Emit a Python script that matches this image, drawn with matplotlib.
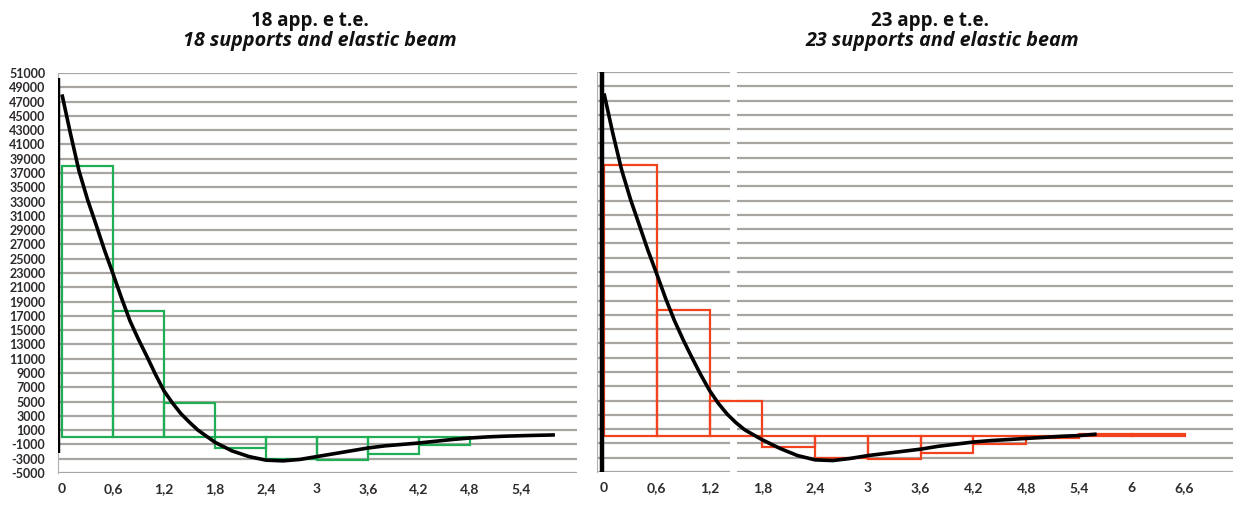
import matplotlib
matplotlib.use('Agg')
import matplotlib.pyplot as plt

W, H = 1258, 517

# support reaction steps (bars 0.6 wide)
bar_w = 0.6
left_bar_x = [0, 0.6, 1.2, 1.8, 2.4, 3.0, 3.6, 4.2]
left_bar_v = [38000, 17700, 4800, -1500, -3000, -3200, -2400, -1100]
right_bar_x = [0, 0.6, 1.2, 1.8, 2.4, 3.0, 3.6, 4.2, 4.8, 5.4, 6.0]
right_bar_v = [38000, 17700, 4900, -1500, -3000, -3200, -2400, -1100, -300, 250, 250]

# elastic beam curve
left_curve_x = [0, 0.1, 0.2, 0.3, 0.4, 0.5, 0.6, 0.7, 0.8, 0.9, 1.0, 1.1, 1.2, 1.3, 1.4,
                1.5, 1.6, 1.8, 2.0, 2.2, 2.4, 2.6, 2.8, 3.0, 3.2, 3.4, 3.6, 3.8, 4.0,
                4.2, 4.4, 4.6, 4.8, 5.0, 5.2, 5.4, 5.6, 5.8]
left_curve_v = [48000, 42500, 37300, 33300, 29800, 26200, 22900, 19500, 16300, 13700,
                11300, 8800, 6500, 4800, 3300, 2100, 1000, -700, -1900, -2700, -3200,
                -3300, -3100, -2700, -2300, -1900, -1500, -1200, -1000, -800, -550, -300,
                -100, 50, 150, 220, 280, 330]
right_curve_x = [0, 0.1, 0.2, 0.3, 0.4, 0.5, 0.6, 0.7, 0.8, 0.9, 1.0, 1.1, 1.2, 1.3, 1.4,
                 1.5, 1.6, 1.8, 2.0, 2.2, 2.4, 2.6, 2.8, 3.0, 3.2, 3.4, 3.6, 3.8, 4.0,
                 4.2, 4.4, 4.6, 4.8, 5.0, 5.2, 5.4, 5.6]
right_curve_v = [48000, 42400, 37300, 33200, 29600, 26000, 22700, 19300, 16200, 13500,
                 11000, 8600, 6400, 4600, 3100, 1900, 900, -500, -1700, -2700, -3300,
                 -3400, -3100, -2700, -2400, -2100, -1800, -1400, -1100, -800, -600, -450,
                 -300, -150, 0, 100, 300]

x_ticks = [0, 0.6, 1.2, 1.8, 2.4, 3.0, 3.6, 4.2, 4.8, 5.4, 6.0, 6.6]
x_labels = ['0', '0,6', '1,2', '1,8', '2,4', '3', '3,6', '4,2', '4,8', '5,4', '6', '6,6']
y_ticks = list(range(-5000, 51001, 2000))

titles_top = ['18 app. e t.e.', '23 app. e t.e.']
titles_sub = ['18 supports and elastic beam', '23 supports and elastic beam']

GRID = '#a8a4a2'
GREEN = '#1fae55'
RED = '#f2421e'
TXT = '#2e2a2a'
FONT = 'Lato'

fig = plt.figure(figsize=(W / 100, H / 100), dpi=100)


def make_ax(px_left, px_right, px_top, px_bottom, xlim):
    ax = fig.add_axes([px_left / W, 1 - px_bottom / H, (px_right - px_left) / W,
                       (px_bottom - px_top) / H])
    ax.set_xlim(*xlim)
    ax.set_ylim(-5000, 51000)
    for s in ['top', 'right', 'bottom']:
        ax.spines[s].set_visible(False)
    ax.spines['left'].set_color('#b0b0b0')
    ax.set_yticks(y_ticks)
    ax.yaxis.grid(True, color=GRID, lw=1.6)
    ax.set_axisbelow(True)
    ax.tick_params(axis='both', length=0)
    return ax


# left panel
ax1 = make_ax(58, 577, 73, 473, (-0.047, 6.06))
n1 = 10
ax1.set_xticks(x_ticks[:n1])
ax1.set_xticklabels(x_labels[:n1])
ax1.set_yticklabels([str(v) for v in y_ticks])
ax1.tick_params(axis='y', pad=9)
ax1.tick_params(axis='x', pad=7)
ax1.bar(left_bar_x, left_bar_v, width=bar_w, align='edge', fill=False,
        edgecolor=GREEN, lw=1.6, zorder=3)
ax1.plot(left_curve_x, left_curve_v, color='black', lw=2.6, zorder=4,
         solid_capstyle='butt', solid_joinstyle='round')
ax1.vlines(-0.05, -2200, 50300, color='black', lw=3.2, zorder=5)

# right panel
ax2 = make_ax(597, 1233, 72, 472, (-0.08, 7.15))
ax2.set_xticks(x_ticks)
ax2.set_xticklabels(x_labels)
ax2.set_yticklabels([])
ax2.tick_params(axis='x', pad=7)
ax2.axvline(1.47, color='white', lw=5, zorder=2)
ax2.bar(right_bar_x, right_bar_v, width=bar_w, align='edge', fill=False,
        edgecolor=RED, lw=1.6, zorder=3)
ax2.plot(right_curve_x, right_curve_v, color='black', lw=2.6, zorder=4,
         solid_capstyle='butt', solid_joinstyle='round')
ax2.vlines(-0.02, -5000, 51000, color='black', lw=3.2, zorder=5)

for ax in (ax1, ax2):
    for lab in ax.get_yticklabels():
        lab.set_fontfamily(FONT)
        lab.set_fontweight('bold')
        lab.set_fontsize(9)
        lab.set_color(TXT)
    for lab in ax.get_xticklabels():
        lab.set_fontfamily(FONT)
        lab.set_fontweight('bold')
        lab.set_fontsize(10)
        lab.set_color(TXT)

# titles
for cx1, cx2, top, sub in [(310, 320, titles_top[0], titles_sub[0]),
                           (930, 942, titles_top[1], titles_sub[1])]:
    fig.text(cx1 / W, 1 - 26 / H, top, ha='center', va='baseline', fontsize=13.5,
             fontweight='bold', family='Open Sans', color='#111111')
    fig.text(cx2 / W, 1 - 46 / H, sub, ha='center', va='baseline', fontsize=14.2,
             fontweight='bold', style='italic', family='Open Sans', color='#111111')

fig.savefig('out.png', dpi=100, facecolor='white')
